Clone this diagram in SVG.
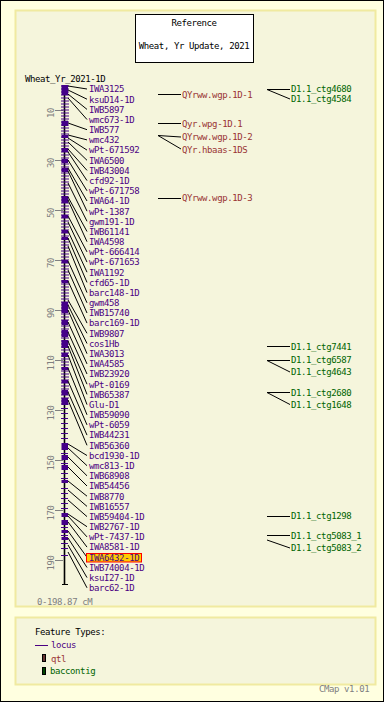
<svg xmlns="http://www.w3.org/2000/svg" width="384" height="702" viewBox="0 0 384 702">
<style>
text{font-family:"DejaVu Sans Mono","Liberation Mono",monospace;font-size:9px;letter-spacing:-0.4px}
.loc{fill:#4b0082}
.qtl{fill:#993333}
.ctg{fill:#006400}
.gray{fill:#808080}
.blk{fill:#000}
.conn{stroke:#000;stroke-width:1;fill:none}
.blockf{fill:#440088}
.tk{stroke:#440088;stroke-width:1;fill:none}
.scale{stroke:#808080;stroke-width:1}
</style>
<defs>
<pattern id="ladder" patternUnits="userSpaceOnUse" x="0" y="85.5" width="8" height="3">
<rect x="0" y="0" width="8" height="1" fill="#440088"/>
</pattern>
</defs>
<rect x="0.5" y="0.5" width="383" height="701" fill="#ffffe0" stroke="#000"/>
<rect x="15.5" y="10.5" width="360" height="596" fill="#f5f5dc" stroke="#f0eaa0" stroke-width="2"/>
<rect x="15.5" y="617.5" width="360" height="67" fill="#f5f5dc" stroke="#f0eaa0" stroke-width="2"/>

<g id="title">
<rect x="135.5" y="14.5" width="118" height="48" fill="#fff" stroke="#000"/>
<text x="194" y="26" text-anchor="middle" class="blk">Reference</text>
<text x="194" y="49" text-anchor="middle" class="blk">Wheat, Yr Update, 2021</text>
</g>

<g id="map-title"><text x="25" y="82" class="blk">Wheat_Yr_2021-1D</text></g>

<g id="scale">
<path class="scale" d="M55 110.5H63M55 160.5H63M55 210.5H63M55 260.5H63M55 310.5H63M55 360.5H63M55 410.5H63M55 460.5H63M55 510.5H63M55 560.5H63"/>
<g class="gray" text-anchor="middle">
<text transform="translate(53.5 113) rotate(-90)">10</text>
<text transform="translate(53.5 163) rotate(-90)">30</text>
<text transform="translate(53.5 213) rotate(-90)">50</text>
<text transform="translate(53.5 263) rotate(-90)">70</text>
<text transform="translate(53.5 313) rotate(-90)">90</text>
<text transform="translate(53.5 363) rotate(-90)">110</text>
<text transform="translate(53.5 413) rotate(-90)">130</text>
<text transform="translate(53.5 463) rotate(-90)">150</text>
<text transform="translate(53.5 513) rotate(-90)">170</text>
<text transform="translate(53.5 563) rotate(-90)">190</text>
</g>
<text x="37" y="605" class="gray">0-198.87 cM</text>
</g>

<g id="map-bar">
<line x1="64.5" y1="85" x2="64.5" y2="585" stroke="#000" stroke-width="1.6"/>
<path d="M62 85.5H68M62 584.5H68" stroke="#000"/>
<rect x="61" y="85" width="8" height="320" fill="url(#ladder)"/>
<path class="tk" d="M61 408.5h7M61 413.5h7M61 418.5h7M61 423.5h7M61 428.5h7M61 433.5h7M61 438.5h7M61 453.5h7M61 463.5h7M61 473.5h7M61 478.5h7M61 488.5h7M61 493.5h7M61 498.5h7M61 503.5h7M61 508.5h7M61 527.5h7M61 535.5h7M61 543.5h7M61 548.5h7M61 555.5h7"/>
<g class="blockf">
<rect x="61.5" y="85" width="6.5" height="10"/>
<rect x="61.5" y="120.7" width="6.5" height="5.3"/>
<rect x="61.5" y="135" width="6.5" height="3"/>
<rect x="61.5" y="148" width="6.5" height="4"/>
<rect x="61.5" y="159" width="6.5" height="4"/>
<rect x="61.5" y="168" width="6.5" height="4"/>
<rect x="61.5" y="196" width="6.5" height="7"/>
<rect x="61.5" y="215" width="6.5" height="3"/>
<rect x="61.5" y="230" width="6.5" height="3"/>
<rect x="61.5" y="237" width="6.5" height="3"/>
<rect x="61.5" y="260" width="6.5" height="3"/>
<rect x="61.5" y="280" width="6.5" height="3"/>
<rect x="61.5" y="302" width="6.5" height="11"/>
<rect x="61.5" y="320" width="6.5" height="5"/>
<rect x="61.5" y="330" width="6.5" height="7"/>
<rect x="61.5" y="340" width="6.5" height="8"/>
<rect x="61.5" y="353" width="6.5" height="4"/>
<rect x="61.5" y="367" width="6.5" height="3"/>
<rect x="61.5" y="380" width="6.5" height="3"/>
<rect x="61.5" y="390" width="6.5" height="5"/>
<rect x="61.5" y="398" width="6.5" height="7"/>
<rect x="61.5" y="443" width="6.5" height="7"/>
<rect x="61.5" y="455" width="6.5" height="5"/>
<rect x="61.5" y="465" width="6.5" height="5"/>
<rect x="61.5" y="480" width="6.5" height="3"/>
<rect x="61.5" y="513" width="6.5" height="4"/>
<rect x="61.5" y="520" width="6.5" height="5"/>
<rect x="61.5" y="530" width="6.5" height="3"/>
<rect x="61.5" y="537" width="6.5" height="3"/>
</g>
</g>

<g id="connectors" class="conn">
<path d="M68 86L87 89M68 90L87 99.2M68 94L87 109.4M68 98L87 119.5M68 123L87 129.7M68 135L87 139.9M68 138L87 150.1M68 142L87 160.3M68 149L87 170.4M68 152L87 180.6M68 160L87 190.8M68 168L87 201M68 171L87 211.2M68 183L87 221.3M68 197L87 231.5M68 200L87 241.7M68 216L87 251.9M68 222L87 262.1M68 231L87 272.2M68 238L87 282.4M68 246L87 292.6M68 261L87 302.8M68 270L87 313M68 281L87 323.1M68 300L87 333.3M68 305L87 343.5M68 310L87 353.7M68 322L87 363.9M68 332L87 374M68 341L87 384.2M68 346L87 394.4M68 355L87 404.6M68 368L87 414.8M68 381L87 424.9M68 392L87 435.1M68 400L87 445.3M68 444L87 455.5M68 448L87 465.7M68 457L87 475.8M68 467L87 486M68 481L87 496.2M68 490L87 506.4M68 500L87 516.6M68 514L87 526.7M68 516L87 536.9M68 522L87 547.1M68 531L87 557.3M68 538L87 567.5M68 545L87 577.6M68 552L87 587.8"/>
<path d="M158 94.5H181M158 123.5H181M158 135.5L181 137M158 135.5L181 149M158 198.5H181"/>
<path d="M267 89.5H290M267 89.5L290 99M267 346.5H290M267 360.5H290M267 360.5L290 372M267 392.5H290M267 392.5L290 404.5M267 516.5H290M267 535.5H290M267 540L290 548"/>
</g>

<g id="loci" class="loc">
<g id="n-IWA3125"><text x="89" y="92.3">IWA3125</text></g>
<g id="n-ksuD14-1D"><text x="89" y="102.5">ksuD14-1D</text></g>
<g id="n-IWB5897"><text x="89" y="112.7">IWB5897</text></g>
<g id="n-wmc673-1D"><text x="89" y="122.8">wmc673-1D</text></g>
<g id="n-IWB577"><text x="89" y="133">IWB577</text></g>
<g id="n-wmc432"><text x="89" y="143.2">wmc432</text></g>
<g id="n-wPt-671592"><text x="89" y="153.4">wPt-671592</text></g>
<g id="n-IWA6500"><text x="89" y="163.6">IWA6500</text></g>
<g id="n-IWB43004"><text x="89" y="173.7">IWB43004</text></g>
<g id="n-cfd92-1D"><text x="89" y="183.9">cfd92-1D</text></g>
<g id="n-wPt-671758"><text x="89" y="194.1">wPt-671758</text></g>
<g id="n-IWA64-1D"><text x="89" y="204.3">IWA64-1D</text></g>
<g id="n-wPt-1387"><text x="89" y="214.5">wPt-1387</text></g>
<g id="n-gwm191-1D"><text x="89" y="224.6">gwm191-1D</text></g>
<g id="n-IWB61141"><text x="89" y="234.8">IWB61141</text></g>
<g id="n-IWA4598"><text x="89" y="245">IWA4598</text></g>
<g id="n-wPt-666414"><text x="89" y="255.2">wPt-666414</text></g>
<g id="n-wPt-671653"><text x="89" y="265.4">wPt-671653</text></g>
<g id="n-IWA1192"><text x="89" y="275.5">IWA1192</text></g>
<g id="n-cfd65-1D"><text x="89" y="285.7">cfd65-1D</text></g>
<g id="n-barc148-1D"><text x="89" y="295.9">barc148-1D</text></g>
<g id="n-gwm458"><text x="89" y="306.1">gwm458</text></g>
<g id="n-IWB15740"><text x="89" y="316.3">IWB15740</text></g>
<g id="n-barc169-1D"><text x="89" y="326.4">barc169-1D</text></g>
<g id="n-IWB9807"><text x="89" y="336.6">IWB9807</text></g>
<g id="n-cos1Hb"><text x="89" y="346.8">cos1Hb</text></g>
<g id="n-IWA3013"><text x="89" y="357">IWA3013</text></g>
<g id="n-IWA4585"><text x="89" y="367.2">IWA4585</text></g>
<g id="n-IWB23920"><text x="89" y="377.3">IWB23920</text></g>
<g id="n-wPt-0169"><text x="89" y="387.5">wPt-0169</text></g>
<g id="n-IWB65387"><text x="89" y="397.7">IWB65387</text></g>
<g id="n-Glu-D1"><text x="89" y="407.9">Glu-D1</text></g>
<g id="n-IWB59090"><text x="89" y="418.1">IWB59090</text></g>
<g id="n-wPt-6059"><text x="89" y="428.2">wPt-6059</text></g>
<g id="n-IWB44231"><text x="89" y="438.4">IWB44231</text></g>
<g id="n-IWB56360"><text x="89" y="448.6">IWB56360</text></g>
<g id="n-bcd1930-1D"><text x="89" y="458.8">bcd1930-1D</text></g>
<g id="n-wmc813-1D"><text x="89" y="469">wmc813-1D</text></g>
<g id="n-IWB68908"><text x="89" y="479.1">IWB68908</text></g>
<g id="n-IWB54456"><text x="89" y="489.3">IWB54456</text></g>
<g id="n-IWB8770"><text x="89" y="499.5">IWB8770</text></g>
<g id="n-IWB16557"><text x="89" y="509.7">IWB16557</text></g>
<g id="n-IWB59404-1D"><text x="89" y="519.9">IWB59404-1D</text></g>
<g id="n-IWB2767-1D"><text x="89" y="530">IWB2767-1D</text></g>
<g id="n-wPt-7437-1D"><text x="89" y="540.2">wPt-7437-1D</text></g>
<g id="n-IWA8581-1D"><text x="89" y="550.4">IWA8581-1D</text></g>
<g id="n-IWA6432-1D"><rect x="86.5" y="553.5" width="55" height="8.5" fill="#ffcc00" stroke="#ff0000"/><text x="89" y="560.6">IWA6432-1D</text></g>
<g id="n-IWB74004-1D"><text x="89" y="570.8">IWB74004-1D</text></g>
<g id="n-ksuI27-1D"><text x="89" y="580.9">ksuI27-1D</text></g>
<g id="n-barc62-1D"><text x="89" y="591.1">barc62-1D</text></g>
</g>

<g id="qtls" class="qtl">
<g id="q-1"><text x="182" y="97.6">QYrww.wgp.1D-1</text></g>
<g id="q-2"><text x="182" y="127">Qyr.wpg-1D.1</text></g>
<g id="q-3"><text x="182" y="140.3">QYrww.wgp.1D-2</text></g>
<g id="q-4"><text x="182" y="152.6">QYr.hbaas-1DS</text></g>
<g id="q-5"><text x="182" y="201.3">QYrww.wgp.1D-3</text></g>
</g>

<g id="contigs" class="ctg">
<g id="c-4680"><text x="291" y="92.3">D1.1_ctg4680</text></g>
<g id="c-4584"><text x="291" y="102.3">D1.1_ctg4584</text></g>
<g id="c-7441"><text x="291" y="350">D1.1_ctg7441</text></g>
<g id="c-6587"><text x="291" y="363.3">D1.1_ctg6587</text></g>
<g id="c-4643"><text x="291" y="375.3">D1.1_ctg4643</text></g>
<g id="c-2680"><text x="291" y="396">D1.1_ctg2680</text></g>
<g id="c-1648"><text x="291" y="408">D1.1_ctg1648</text></g>
<g id="c-1298"><text x="291" y="519.3">D1.1_ctg1298</text></g>
<g id="c-5083_1"><text x="291" y="538.6">D1.1_ctg5083_1</text></g>
<g id="c-5083_2"><text x="291" y="551.3">D1.1_ctg5083_2</text></g>
</g>

<g id="legend">
<text x="35" y="635" class="blk">Feature Types:</text>
<line x1="35" y1="645.5" x2="48" y2="645.5" stroke="#4b0082"/>
<text x="51" y="648.3" class="loc">locus</text>
<rect x="42.5" y="654.5" width="3" height="7" fill="#663333" stroke="#000"/>
<text x="51" y="661.6" class="qtl">qtl</text>
<rect x="42.5" y="667.5" width="3" height="7" fill="#004400" stroke="#000"/>
<text x="50" y="674.3" class="ctg">baccontig</text>
</g>
<text x="319" y="692" class="gray">CMap v1.01</text>
</svg>
